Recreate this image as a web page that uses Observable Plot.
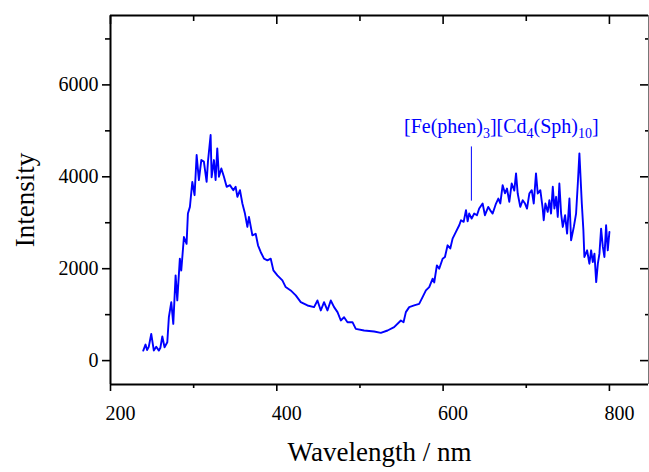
<!DOCTYPE html>
<html><head><meta charset="utf-8">
<script src="https://cdn.jsdelivr.net/npm/d3@7"></script>
<script src="https://cdn.jsdelivr.net/npm/@observablehq/plot@0.6"></script>
<style>
body{margin:0;background:#fff}
#chart svg{display:block;background:#fff}
</style>
</head><body><div id="chart"></div>
<script>
const wavelength = [239.4,242.1,244,246,249.0,252.1,255,258.2,260,262.3,265.0,268.3,270.2,273.1,275.5,278.3,280.3,283.4,285.1,288.3,291.5,293.1,295.5,298.4,301.1,303.6,306.3,309.2,312.3,315.6,317.2,320.4,321.6,324.4,326.4,328.4,330.4,333.3,336.4,339.7,343.6,347.7,350.5,352.6,355.7,358.6,361.7,364.6,366.5,370.6,374.6,377.4,380.6,384.6,388.7,392.7,395.9,400.7,406.7,410.7,416.7,422.8,428.8,436.9,444.8,448.9,452.9,456.8,460.9,464.9,468.9,473.0,477.0,480.9,485.0,491.0,495.0,505.0,517.1,525.1,533.2,541.1,549.2,552.4,555.2,559.2,565.2,571.2,575.3,579.3,583.3,587.4,589.3,592.5,595.3,599.4,602.2,605.4,608.6,611.4,615.4,619.4,621.5,624.7,627.5,629.5,631.4,634.3,637.4,640.7,643.4,647.5,650.3,654.3,656.7,659.6,663.6,666.4,668.8,671.6,674.4,676.8,679.6,682.5,685.6,687.7,689.7,692.8,695.7,698.5,700.9,703.7,706.6,709.0,711.7,713.8,716.9,719.8,721.0,723.0,725.8,727.8,729.8,731.9,733.8,735.9,737.9,739.8,741.9,743.9,746.7,749.1,751.9,753.9,757.2,759.9,762.0,763.9,766.8,768.7,769.9,773.2,775.9,778.0,780.0,782.0,784.1,786.1,788.0,790.0,792.1,794.0,796.0,798.0,800.0];
const intensity = [218,350,230,300,582,218,300,218,280,524,290,400,945,1273,800,1855,1310,2218,1960,2690,2540,3200,3345,3890,3600,4473,3927,4364,4330,3890,4330,4910,3990,4364,3930,4618,4000,4180,4000,3782,3818,3709,3782,3564,3709,3418,3200,2909,3127,2727,2760,2509,2364,2218,2182,2218,1964,1855,1745,1600,1527,1418,1273,1200,1164,1309,1091,1273,1091,1309,1164,1055,873,945,836,836,691,655,633,604,655,727,873,836,1055,1164,1200,1236,1382,1527,1600,1782,1700,2073,2000,2218,2255,2509,2440,2655,2800,2945,3055,3020,3273,3030,3200,3091,3200,3164,3309,3418,3164,3345,3270,3200,3418,3527,3420,3818,3640,3745,3455,3855,3700,4073,3636,3345,3490,3418,3309,3636,3709,3418,4073,3636,3709,3309,3055,3418,3236,3490,3200,3782,3309,3564,3127,3855,3200,2909,3164,2764,3527,2618,2909,3200,3855,4509,3418,2836,2255,2400,2109,2400,2145,2327,1709,2109,2327,2873,2473,2255,2945,2400,2800];

const xMajorTicks = [200, 400, 600, 800];
const xMinorTicks = [300, 500, 700];
const yMajorTicks = [0, 2000, 4000, 6000];
const yMinorTicks = [1000, 3000, 5000, 7000];
const xTitle = "Wavelength / nm";
const yTitle = "Intensity";
const annotationPieces = [
  {t: "[Fe(phen)"}, {t: "3", sub: true}, {t: "][Cd"}, {t: "4", sub: true},
  {t: "(Sph)"}, {t: "10", sub: true}, {t: "]"}
];
const annotationAt = {x: 553, y: 5095};
const markerLine = {x: 634, y1: 3470, y2: 4650};

const xDomain = [200, 847];
const yDomain = [-520, 7510];
const blue = "#0000ff";
const annotationText = annotationPieces.map(d => d.t).join("");

const spectrum = wavelength.map((w, i) => ({w, v: intensity[i]}));

const chart = Plot.plot({
  width: 649,
  height: 472,
  marginLeft: 110,
  marginRight: 1,
  marginTop: 15,
  marginBottom: 88,
  style: {fontFamily: "'Liberation Serif', 'Times New Roman', serif", fontSize: "20px", color: "#000", background: "#fff"},
  x: {domain: xDomain},
  y: {domain: yDomain},
  marks: [
    // bottom axis
    Plot.axisX({anchor: "bottom", ticks: xMajorTicks, tickSize: 7, fill: "none", strokeWidth: 1.6}),
    Plot.axisX({anchor: "bottom", ticks: xMinorTicks, tickSize: 4, fill: "none", strokeWidth: 1.6}),
    Plot.axisX({anchor: "bottom", ticks: xMajorTicks, tickSize: 0, tickPadding: 21, dx: 10, label: null, fontSize: 20, tickFormat: d3.format("d")}),
    // top axis (inward)
    Plot.axisX({anchor: "top", ticks: xMajorTicks, tickSize: -8, fill: "none", strokeWidth: 1.6, label: null}),
    Plot.axisX({anchor: "top", ticks: xMinorTicks, tickSize: -5, fill: "none", strokeWidth: 1.6, label: null}),
    // left axis
    Plot.axisY({anchor: "left", ticks: yMajorTicks, tickSize: 8, fill: "none", strokeWidth: 1.6, label: null}),
    Plot.axisY({anchor: "left", ticks: yMinorTicks, tickSize: 5, fill: "none", strokeWidth: 1.6, label: null}),
    Plot.axisY({anchor: "left", ticks: yMajorTicks, tickSize: 0, tickPadding: 12, label: null, fontSize: 20, tickFormat: d3.format("d")}),
    // right axis (inward)
    Plot.axisY({anchor: "right", ticks: yMajorTicks, tickSize: -9, fill: "none", strokeWidth: 1.6, label: null}),
    Plot.axisY({anchor: "right", ticks: yMinorTicks, tickSize: -4, fill: "none", strokeWidth: 1.6, label: null}),
    // frame
    Plot.ruleX([xDomain[0]], {stroke: "#000", strokeWidth: 2}),
    Plot.ruleX([xDomain[1]], {stroke: "#777", strokeWidth: 1}),
    Plot.ruleY([yDomain[0]], {stroke: "#000", strokeWidth: 2}),
    Plot.ruleY([yDomain[1]], {stroke: "#000", strokeWidth: 2}),
    // spectrum
    Plot.line(spectrum, {x: "w", y: "v", stroke: blue, strokeWidth: 1.9, strokeLinejoin: "round"}),
    // annotation marker
    Plot.ruleX([markerLine], {x: "x", y1: "y1", y2: "y2", stroke: blue, strokeWidth: 1}),
    Plot.text([annotationAt], {x: "x", y: "y", text: () => annotationText, textAnchor: "start", lineAnchor: "middle", fill: blue, fontSize: 20}),
    // titles
    Plot.text([xTitle], {frameAnchor: "bottom", textAnchor: "middle", lineAnchor: "middle", dy: 68, fontSize: 27, fill: "#000"}),
    Plot.text([yTitle], {frameAnchor: "left", textAnchor: "middle", lineAnchor: "middle", dx: -85, rotate: -90, fontSize: 27, fill: "#000"})
  ]
});

document.getElementById("chart").appendChild(chart);

// render the subscripts of the annotation as real tspans
d3.select(chart).selectAll("text").filter(function() { return this.textContent === annotationText; })
  .each(function() {
    const t = d3.select(this);
    t.text(null);
    let shifted = false;
    for (const p of annotationPieces) {
      const s = t.append("tspan").text(p.t);
      if (p.sub && !shifted) { s.attr("dy", 5).attr("font-size", 14); shifted = true; }
      else if (p.sub) { s.attr("font-size", 14); }
      else if (shifted) { s.attr("dy", -5); shifted = false; }
    }
  });
</script>
</body></html>
